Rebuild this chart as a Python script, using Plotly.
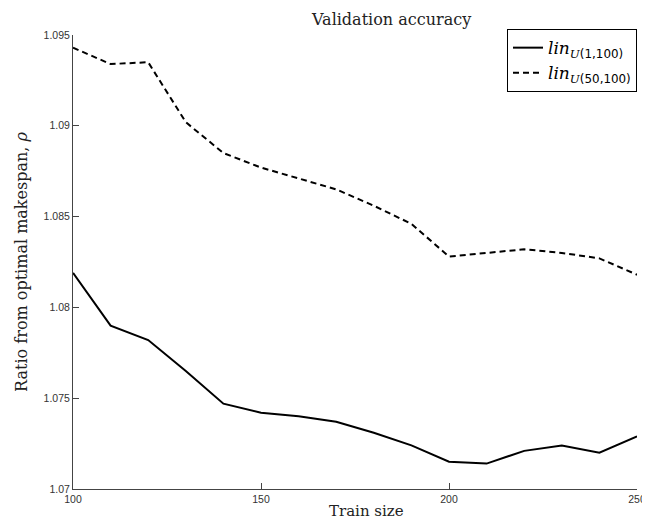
import plotly.graph_objects as go

train_size = [100, 110, 120, 130, 140, 150, 160, 170, 180, 190, 200, 210, 220, 230, 240, 250]
lin_u_1_100 = [1.0819, 1.0790, 1.0782, 1.0765, 1.0747, 1.0742, 1.0740, 1.0737, 1.0731, 1.0724,
               1.0715, 1.0714, 1.0721, 1.0724, 1.0720, 1.0729]
lin_u_50_100 = [1.0943, 1.0934, 1.0935, 1.0902, 1.0885, 1.0877, 1.0871, 1.0865, 1.0856, 1.0846,
                1.0828, 1.0830, 1.0832, 1.0830, 1.0827, 1.0818]
y_ticks = [1.07, 1.075, 1.08, 1.085, 1.09, 1.095]
y_tick_labels = ["1.07", "1.075", "1.08", "1.085", "1.09", "1.095"]
x_ticks = [100, 150, 200, 250]

SERIF = "DejaVu Serif"
SANS = "Liberation Sans"
AXIS_COL = "#444444"

fig = go.Figure()
fig.add_trace(go.Scatter(
    x=train_size, y=lin_u_1_100, mode="lines",
    name="<i>lin</i><sub><i>U</i><span style=\"font-family:DejaVu Sans\">(1,100)</span></sub>",
    line=dict(color="black", width=2),
))
fig.add_trace(go.Scatter(
    x=train_size, y=lin_u_50_100, mode="lines",
    name="<i>lin</i><sub><i>U</i><span style=\"font-family:DejaVu Sans\">(50,100)</span></sub>",
    line=dict(color="black", width=2, dash="6px,4px"),
))

fig.update_layout(
    width=650, height=527,
    margin=dict(l=60, r=16, t=27, b=46),
    paper_bgcolor="white", plot_bgcolor="white",
    showlegend=True,
    legend=dict(
        x=1.0, y=1.013, xanchor="right", yanchor="top",
        bordercolor="black", borderwidth=1, bgcolor="white",
        font=dict(family=SERIF, size=17, color="black"),
        tracegroupgap=0, itemwidth=30,
    ),
    annotations=[
        dict(text="Validation accuracy", x=0.564, y=1.0, xref="paper", yref="paper",
             xanchor="center", yanchor="bottom", yshift=4, showarrow=False,
             font=dict(family=SERIF, size=16, color="#222222")),
        dict(text="Train size", x=0.521, y=0, xref="paper", yref="paper",
             xanchor="center", yanchor="top", yshift=-11, showarrow=False,
             font=dict(family=SERIF, size=15, color="#222222")),
    ],
)

fig.update_xaxes(
    range=[100, 250], tickvals=x_ticks, ticktext=[str(v) for v in x_ticks],
    showgrid=False, zeroline=False, showline=True, linecolor=AXIS_COL, linewidth=1,
    ticks="inside", ticklen=6, tickcolor=AXIS_COL, ticklabeloverflow="allow",
    tickfont=dict(family=SANS, size=10.5, color="#333333"),
)
fig.update_yaxes(
    range=[1.07, 1.095], tickvals=y_ticks, ticktext=y_tick_labels,
    showgrid=False, zeroline=False, showline=True, linecolor=AXIS_COL, linewidth=1,
    ticks="inside", ticklen=6, tickcolor=AXIS_COL, ticklabeloverflow="allow",
    tickfont=dict(family=SANS, size=10.5, color="#333333"),
    title=dict(text="Ratio from optimal makespan, <i>ρ</i>",
               font=dict(family=SERIF, size=16, color="#222222"), standoff=12),
)

fig.write_html("out.html")
